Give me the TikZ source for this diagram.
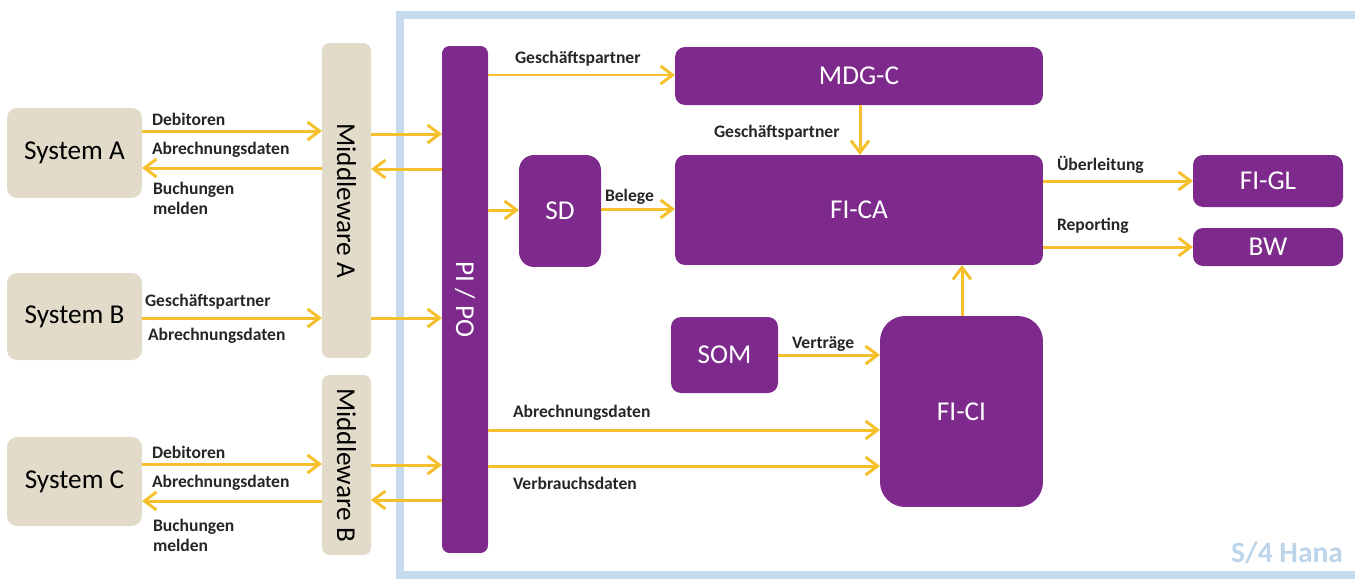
\documentclass[tikz,border=0pt]{standalone}
\usepackage{fontspec}
\setmainfont{Carlito}
\usetikzlibrary{arrows.meta}

\definecolor{sappurple}{HTML}{7D2A8C}
\definecolor{sapbeige}{HTML}{E2DBCA}
\definecolor{flowgold}{HTML}{F6BF2C}
\definecolor{frameblue}{HTML}{C5DBED}
\definecolor{hanablue}{HTML}{BCD5EA}

\def\SysA{System A}
\def\SysB{System B}
\def\SysC{System C}

\begin{document}
\begin{tikzpicture}[x=0.02cm,y=-0.02cm,
  every node/.style={inner sep=0pt,outer sep=0pt},
  legacy/.style={fill=sapbeige,rounded corners=0.2cm,
    font=\fontsize{15.5}{18}\selectfont},
  module/.style={fill=sappurple,rounded corners=0.2cm,text=white,
    font=\fontsize{15.5}{18}\selectfont},
  flow/.style={draw=flowgold,line width=1.7pt,
    -{Straight Barb[length=0.24cm,width=0.36cm]}},
  msg/.style={anchor=west,align=left,text=black!85,
    font=\fontsize{10}{11.3}\bfseries\selectfont}]

\useasboundingbox (0,0) rectangle (1355,579);

% S/4 frame (runs off the right edge)
\draw[frameblue,line width=0.16cm] (400,15) rectangle (1364,575);
\node[anchor=east,text=hanablue,font=\fontsize{16.8}{20}\bfseries\selectfont]
  (hana) at (1343,553) {S/4 Hana};

% Legacy systems and middleware
\node[legacy,minimum width=2.7cm,minimum height=1.8cm]  (sys A) at (74.5,153)   {\SysA};
\node[legacy,minimum width=2.7cm,minimum height=1.74cm] (sys B) at (74.5,316.5) {\SysB};
\node[legacy,minimum width=2.7cm,minimum height=1.78cm] (sys C) at (74.5,481.5) {\SysC};
\node[legacy,minimum width=0.98cm,minimum height=6.3cm,rounded corners=0.15cm]
  (mw A) at (346.5,200.5) {\rotatebox{-90}{Middleware A}};
\node[legacy,minimum width=0.98cm,minimum height=3.6cm,rounded corners=0.15cm]
  (mw B) at (346.5,465) {\rotatebox{-90}{Middleware B}};

% SAP modules
\node[module,minimum width=0.92cm,minimum height=10.14cm,rounded corners=0.15cm]
  (pipo) at (465,299.5) {\rotatebox{-90}{PI / PO}};
\node[module,minimum width=7.36cm,minimum height=1.16cm] (mdgc) at (859,76)  {MDG-C};
\node[module,minimum width=7.36cm,minimum height=2.2cm]  (fica) at (859,210) {FI-CA};
\node[module,minimum width=1.64cm,minimum height=2.24cm,rounded corners=0.3cm]
  (sd) at (560,211) {SD};
\node[module,minimum width=3cm,minimum height=1.04cm]    (figl) at (1268,181) {FI-GL};
\node[module,minimum width=3cm,minimum height=0.76cm]    (bw)   at (1268,247) {BW};
\node[module,minimum width=2.14cm,minimum height=1.52cm] (som)  at (724.5,355) {SOM};
\node[module,minimum width=3.26cm,minimum height=3.82cm,rounded corners=0.5cm]
  (fici) at (961.5,411.5) {FI-CI};

% Flow rows
\foreach \n/\y in {a1/131,a2/168,a3/134,a4/169,b1/318,c1/464,c2/501,c3/465,c4/500,
                   p1/75,p2/210,p3/209,p4/181,p5/247,p6/355,p7/430,p8/466}
  \coordinate (\n) at (0,\y);
\coordinate (v1) at (860,0);
\coordinate (v2) at (962,0);

% Horizontal flows (legacy side)
\draw[flow] (sys A.east |- a1) -- (mw A.west |- a1);
\draw[flow] (mw A.west |- a2) -- (sys A.east |- a2);
\draw[flow] (mw A.east |- a3) -- (pipo.west |- a3);
\draw[flow] (pipo.west |- a4) -- (mw A.east |- a4);
\draw[flow] (sys B.east |- b1) -- (mw A.west |- b1);
\draw[flow] (mw A.east |- b1) -- (pipo.west |- b1);
\draw[flow] (sys C.east |- c1) -- (mw B.west |- c1);
\draw[flow] (mw B.west |- c2) -- (sys C.east |- c2);
\draw[flow] (mw B.east |- c3) -- (pipo.west |- c3);
\draw[flow] (pipo.west |- c4) -- (mw B.east |- c4);

% Flows inside S/4
\draw[flow] (pipo.east |- p1) -- (mdgc.west |- p1);
\draw[flow] (mdgc.south -| v1) -- (fica.north -| v1);
\draw[flow] (pipo.east |- p2) -- (sd.west |- p2);
\draw[flow] (sd.east |- p3) -- (fica.west |- p3);
\draw[flow] (fica.east |- p4) -- (figl.west |- p4);
\draw[flow] (fica.east |- p5) -- (bw.west |- p5);
\draw[flow] (som.east |- p6) -- (fici.west |- p6);
\draw[flow] (fici.north -| v2) -- (fica.south -| v2);
\draw[flow] (pipo.east |- p7) -- (fici.west |- p7);
\draw[flow] (pipo.east |- p8) -- (fici.west |- p8);

% Flow labels
\node[msg] (deb A)  at (152,119) {Debitoren};
\node[msg] (abr A)  at (152,150) {Abrechnungsdaten};
\node[msg] (buch A) at (153,198) {Buchungen\\melden};
\node[msg] (gp B)   at (145,302) {Geschäftspartner};
\node[msg] (abr B)  at (148,336) {Abrechnungsdaten};
\node[msg] (deb C)  at (152,452) {Debitoren};
\node[msg] (abr C)  at (152,483) {Abrechnungsdaten};
\node[msg] (buch C) at (153,535) {Buchungen\\melden};
\node[msg] (gp top) at (515,59)  {Geschäftspartner};
\node[msg] (gp mid) at (714,133) {Geschäftspartner};
\node[msg] (beleg)  at (605,197) {Belege};
\node[msg] (ueber)  at (1057,165) {Überleitung};
\node[msg] (rep)    at (1057,226) {Reporting};
\node[msg] (vert)   at (792,344) {Verträge};
\node[msg] (abr CI) at (513,413) {Abrechnungsdaten};
\node[msg] (verb)   at (513,483) {Verbrauchsdaten};

\end{tikzpicture}
\end{document}
